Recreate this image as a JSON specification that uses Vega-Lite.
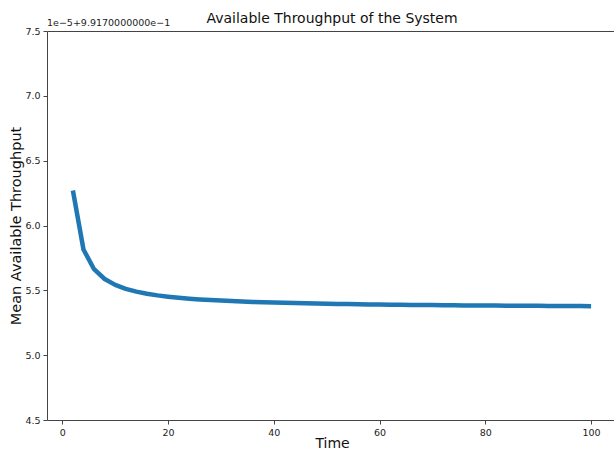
{
  "$schema": "https://vega.github.io/schema/vega-lite/v6.json",
  "autosize": {"type": "none"},
  "padding": {"left": 47, "top": 31, "right": 0, "bottom": 32},
  "width": 570,
  "height": 389,
  "background": "white",
  "config": {
    "font": "DejaVu Sans",
    "view": {"stroke": "#444", "strokeWidth": 1}
  },
  "title": {
    "text": "Available Throughput of the System",
    "fontSize": 14,
    "fontWeight": "normal",
    "color": "#111",
    "anchor": "middle",
    "offset": -8,
    "font": "DejaVu Sans"
  },
  "layer": [
    {
      "data": {
        "values": [
          {"t": 2, "v": 6.27}, {"t": 4, "v": 5.815}, {"t": 6, "v": 5.663}, {"t": 8, "v": 5.5875},
          {"t": 10, "v": 5.542}, {"t": 12, "v": 5.5117}, {"t": 14, "v": 5.49}, {"t": 16, "v": 5.4738},
          {"t": 18, "v": 5.4611}, {"t": 20, "v": 5.451}, {"t": 22, "v": 5.4427}, {"t": 24, "v": 5.4358},
          {"t": 26, "v": 5.43}, {"t": 28, "v": 5.425}, {"t": 30, "v": 5.4207}, {"t": 32, "v": 5.4169},
          {"t": 34, "v": 5.4135}, {"t": 36, "v": 5.4106}, {"t": 38, "v": 5.4079}, {"t": 40, "v": 5.4055},
          {"t": 42, "v": 5.4033}, {"t": 44, "v": 5.4014}, {"t": 46, "v": 5.3996}, {"t": 48, "v": 5.3979},
          {"t": 50, "v": 5.3964}, {"t": 52, "v": 5.395}, {"t": 54, "v": 5.3937}, {"t": 56, "v": 5.3925},
          {"t": 58, "v": 5.3914}, {"t": 60, "v": 5.3903}, {"t": 62, "v": 5.3894}, {"t": 64, "v": 5.3884},
          {"t": 66, "v": 5.3876}, {"t": 68, "v": 5.3868}, {"t": 70, "v": 5.386}, {"t": 72, "v": 5.3853},
          {"t": 74, "v": 5.3846}, {"t": 76, "v": 5.3839}, {"t": 78, "v": 5.3833}, {"t": 80, "v": 5.3828},
          {"t": 82, "v": 5.3822}, {"t": 84, "v": 5.3817}, {"t": 86, "v": 5.3812}, {"t": 88, "v": 5.3807},
          {"t": 90, "v": 5.3802}, {"t": 92, "v": 5.3798}, {"t": 94, "v": 5.3794}, {"t": 96, "v": 5.379},
          {"t": 98, "v": 5.3786}, {"t": 100, "v": 5.3782}
        ]
      },
      "mark": {"type": "line", "color": "#1f77b4", "strokeWidth": 4.5, "strokeCap": "butt", "strokeJoin": "round"},
      "encoding": {
        "x": {
          "field": "t", "type": "quantitative",
          "scale": {"domain": [-2.9, 104.9], "nice": false, "zero": false},
          "axis": {
            "title": "Time", "titleFontSize": 14, "titleFontWeight": "normal", "titleColor": "#111",
            "titlePadding": 0,
            "values": [0, 20, 40, 60, 80, 100], "grid": false, "domain": false,
            "tickColor": "#444", "tickSize": 4, "labelFontSize": 9.5, "labelColor": "#222",
            "labelPadding": 3, "labelFlush": false
          }
        },
        "y": {
          "field": "v", "type": "quantitative",
          "scale": {"domain": [4.5, 7.5], "nice": false, "zero": false},
          "axis": {
            "title": "Mean Available Throughput", "titleFontSize": 14.5, "titleFontWeight": "normal",
            "titleColor": "#111", "titlePadding": 1,
            "values": [4.5, 5.0, 5.5, 6.0, 6.5, 7.0, 7.5], "format": ".1f", "grid": false, "domain": false,
            "tickColor": "#444", "tickSize": 4, "labelFontSize": 9.5, "labelColor": "#222",
            "labelPadding": 3, "labelFlush": false
          }
        }
      }
    },
    {
      "data": {"values": [{"label": "1e−5+9.9170000000e−1", "t": -2.9, "v": 7.5}]},
      "mark": {"type": "text", "align": "left", "baseline": "bottom", "dy": -3, "fontSize": 9.5, "color": "#222", "font": "DejaVu Sans"},
      "encoding": {
        "x": {"field": "t", "type": "quantitative"},
        "y": {"field": "v", "type": "quantitative"},
        "text": {"field": "label"}
      }
    }
  ]
}
